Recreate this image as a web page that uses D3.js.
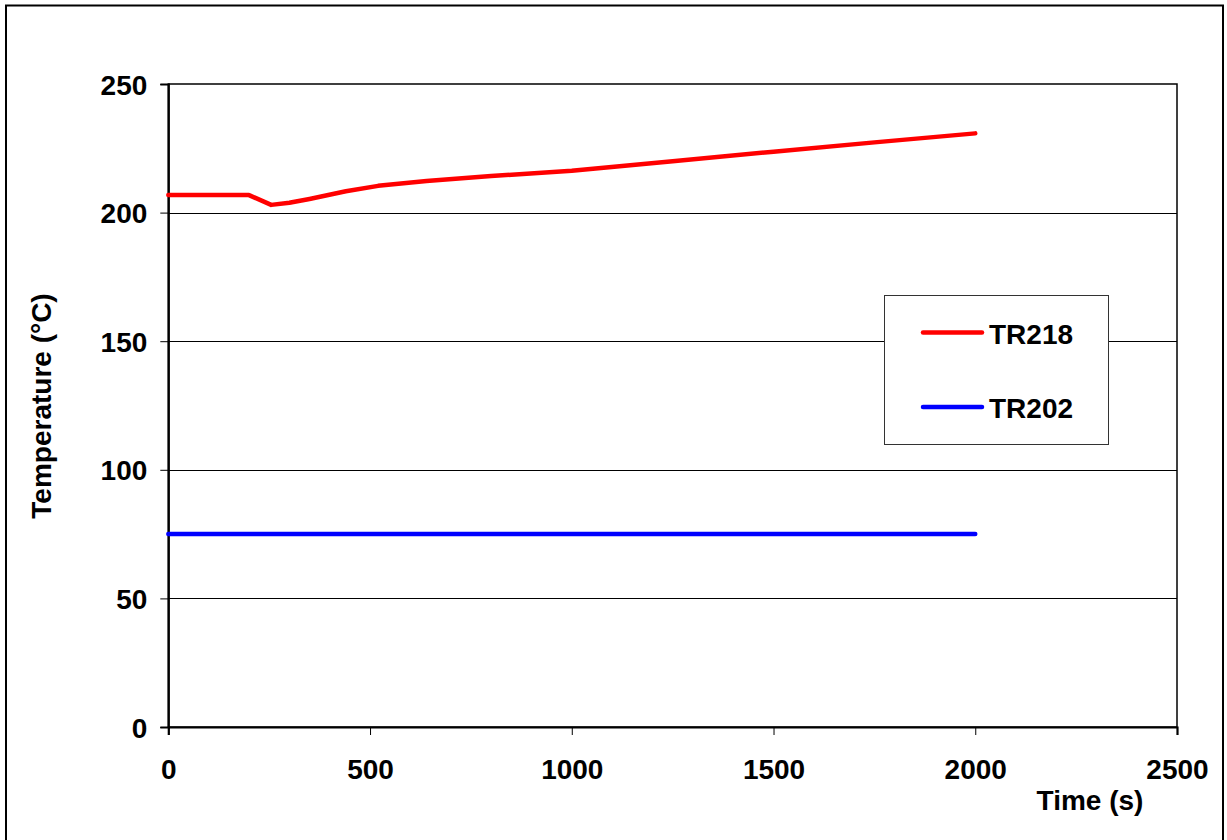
<!DOCTYPE html>
<html>
<head>
<meta charset="utf-8">
<script src="https://cdn.jsdelivr.net/npm/d3@7"></script>
<style>
  html, body { margin: 0; padding: 0; background: #fff; }
  svg text { font-family: "Liberation Sans", Arial, sans-serif; font-weight: bold; fill: #000; }
</style>
</head>
<body>
<svg id="chart" width="1227" height="840"></svg>
<script>
// ---- data ----
const time = [0, 200, 255, 300, 350, 440, 520, 640, 800, 1000, 1250, 1500, 1750, 2000];
const tr218 = [206.8, 206.8, 203.0, 203.8, 205.3, 208.3, 210.4, 212.3, 214.2, 216.3, 220.0, 223.7, 227.3, 230.8];
const tr202 = [75, 75, 75, 75, 75, 75, 75, 75, 75, 75, 75, 75, 75, 75];
const seriesNames = ["TR218", "TR202"];
const seriesColors = ["#ff0000", "#0000ff"];
const xTicks = [0, 500, 1000, 1500, 2000, 2500];
const yTicks = [0, 50, 100, 150, 200, 250];
const xTitle = "Time (s)";
const yTitle = "Temperature (°C)";

// ---- layout ----
const svg = d3.select("#chart");
const plot = { left: 168.3, right: 1177, top: 84, bottom: 727 };
const x = d3.scaleLinear().domain([0, 2500]).range([plot.left, plot.right]);
const y = d3.scaleLinear().domain([0, 250]).range([plot.bottom, plot.top]);

// outer border
svg.append("rect").attr("x", 6).attr("y", 5.5).attr("width", 1217).attr("height", 850)
  .attr("fill", "none").attr("stroke", "#000").attr("stroke-width", 2);

// gridlines
svg.append("g").selectAll("line").data(yTicks.filter(d => d > 0 && d < 250)).join("line")
  .attr("x1", plot.left).attr("x2", plot.right)
  .attr("y1", d => Math.round(y(d)) + 0.5).attr("y2", d => Math.round(y(d)) + 0.5)
  .attr("stroke", "#000").attr("stroke-width", 1);

// plot area border
svg.append("rect").attr("x", plot.left).attr("y", plot.top)
  .attr("width", plot.right - plot.left).attr("height", plot.bottom - plot.top)
  .attr("fill", "none").attr("stroke", "#000").attr("stroke-width", 1.5);

// axes
const xAxis = d3.axisBottom(x).tickValues(xTicks).tickSize(8).tickPadding(22).tickFormat(d3.format("d"));
const yAxis = d3.axisLeft(y).tickValues(yTicks).tickSize(8).tickPadding(13).tickFormat(d3.format("d"));

const gx = svg.append("g").attr("transform", `translate(0,${plot.bottom})`).call(xAxis);
const gy = svg.append("g").attr("transform", `translate(${plot.left},0)`).call(yAxis);
[gx, gy].forEach(g => {
  g.select(".domain").attr("stroke", "#000").attr("stroke-width", 2.2);
  g.selectAll(".tick line").attr("stroke", "#000").attr("stroke-width", 1);
  g.selectAll(".tick text").style("font-size", "28px").attr("fill", "#000")
    .style("font-family", '"Liberation Sans", Arial, sans-serif').style("font-weight", "bold");
});
gx.selectAll(".tick text").attr("dy", "0.71em").attr("y", 32);
gy.selectAll(".tick text").attr("dy", "0.36em");

// axis titles
svg.append("text").attr("x", 1090).attr("y", 810).attr("text-anchor", "middle")
  .style("font-size", "28px").text(xTitle);
svg.append("text").attr("transform", "translate(51,406) rotate(-90)").attr("text-anchor", "middle")
  .style("font-size", "28px").text(yTitle);

// lines
const lineGen = d3.line().x((d, i) => x(time[i])).y(d => y(d));
const seriesData = [tr218, tr202];
svg.append("g").selectAll("path").data(seriesData).join("path")
  .attr("d", lineGen)
  .attr("fill", "none")
  .attr("stroke", (d, i) => seriesColors[i])
  .attr("stroke-width", 4.5)
  .attr("stroke-linecap", "round")
  .attr("stroke-linejoin", "round");

// legend
const legend = svg.append("g");
legend.append("rect").attr("x", 884.5).attr("y", 295.5).attr("width", 224).attr("height", 149)
  .attr("fill", "#fff").attr("stroke", "#333").attr("stroke-width", 1);
const legendY = [332.5, 407];
seriesNames.forEach((name, i) => {
  legend.append("line").attr("x1", 923).attr("x2", 982)
    .attr("y1", legendY[i]).attr("y2", legendY[i])
    .attr("stroke", seriesColors[i]).attr("stroke-width", 4.5).attr("stroke-linecap", "round");
  legend.append("text").attr("x", 989).attr("y", legendY[i] + 11)
    .style("font-size", "28px").text(name);
});
</script>
</body>
</html>
